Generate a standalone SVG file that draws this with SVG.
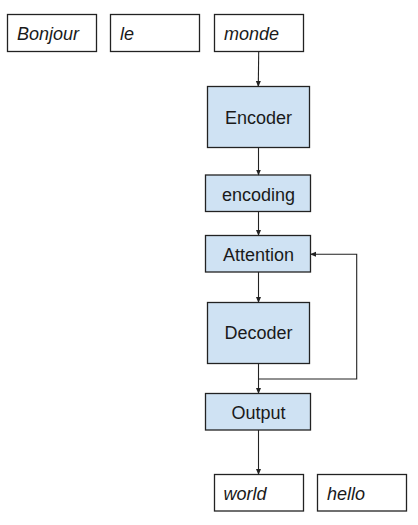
<svg xmlns="http://www.w3.org/2000/svg" width="418" height="525" viewBox="0 0 418 525">
<style>
.w{fill:#ffffff;stroke:#222222;stroke-width:1.3}
.b{fill:#cfe2f3;stroke:#222222;stroke-width:1.3}
.t{font-family:"Liberation Sans",Arial,sans-serif;font-size:18px;fill:#1a1a1a}
.i{font-style:italic}
.c{text-anchor:middle}
.e{fill:none;stroke:#222222;stroke-width:1.1}
</style>
<defs>
<marker id="ah" markerWidth="6" markerHeight="6" refX="5.5" refY="3" orient="auto" markerUnits="userSpaceOnUse">
<path d="M0,0.5 L6,3 L0,5.5 Z" fill="#222222"/>
</marker>
</defs>
<rect width="418" height="525" fill="#ffffff"/>
<g id="bonjour"><rect class="w" x="7.5" y="14.5" width="89" height="37"/><text class="t i" x="17" y="39.5">Bonjour</text></g>
<g id="le"><rect class="w" x="110.5" y="14.5" width="89" height="37"/><text class="t i" x="120" y="39.5">le</text></g>
<g id="monde"><rect class="w" x="214.5" y="14.5" width="89" height="37"/><text class="t i" x="224" y="39.5">monde</text></g>
<g id="encoder"><rect class="b" x="207.5" y="86.5" width="102" height="61"/><text class="t c" x="258.5" y="124">Encoder</text></g>
<g id="encoding"><rect class="b" x="205.5" y="175" width="105" height="36.5"/><text class="t c" x="258.5" y="200.5">encoding</text></g>
<g id="attention"><rect class="b" x="205.5" y="235.5" width="105" height="36.5"/><text class="t c" x="258.5" y="261">Attention</text></g>
<g id="decoder"><rect class="b" x="207.5" y="302.5" width="102" height="61"/><text class="t c" x="258.5" y="339">Decoder</text></g>
<g id="output"><rect class="b" x="205.5" y="393.5" width="105" height="36.5"/><text class="t c" x="258.5" y="419">Output</text></g>
<g id="world"><rect class="w" x="214.5" y="474.5" width="89" height="36.5"/><text class="t i" x="223.5" y="499.5">world</text></g>
<g id="hello"><rect class="w" x="317.5" y="474.5" width="89" height="36.5"/><text class="t i" x="327" y="499.5">hello</text></g>
<g id="connectors">
<path class="e" d="M258.7,51.5 L258.3,86.5" marker-end="url(#ah)"/>
<path class="e" d="M258.5,147.5 L258.5,175" marker-end="url(#ah)"/>
<path class="e" d="M258.5,211.5 L258.5,235.5" marker-end="url(#ah)"/>
<path class="e" d="M258.5,272 L258.5,302.5" marker-end="url(#ah)"/>
<path class="e" d="M258.5,363.5 L258.5,393.5" marker-end="url(#ah)"/>
<path class="e" d="M258.5,379 L356.7,379 L356.7,254.3 L310.5,254.3" marker-end="url(#ah)"/>
<path class="e" d="M258.5,430 L258.5,474.5" marker-end="url(#ah)"/>
</g>
</svg>
